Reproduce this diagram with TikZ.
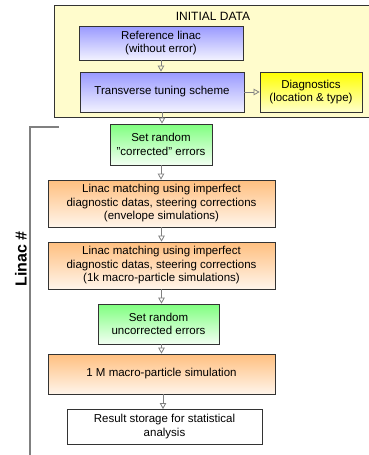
\documentclass[tikz,border=0pt]{standalone}
\usepackage{fontspec}
\setmainfont{Liberation Sans}
\usetikzlibrary{arrows.meta}

\begin{document}
\begin{tikzpicture}[x=1pt, y=-1pt,
    box/.style={draw=black!80, line width=0.7pt, align=center, inner sep=2pt,
                font=\fontsize{11.5}{13.5}\selectfont},
    bluebox/.style={box, top color=blue!40, bottom color=blue!5},
    yellowbox/.style={box, top color=yellow, bottom color=yellow!20},
    greenbox/.style={box, top color=green!50, bottom color=green!5},
    orangebox/.style={box, top color=orange!50, bottom color=orange!8},
    whitebox/.style={box, fill=white},
    link/.style={draw=black!50, line width=0.8pt, -{Triangle[open,length=6pt,width=6.5pt]}}]
    \useasboundingbox (0,0) rectangle (368,455);

    % initial data frame
    \node[draw=black!80, line width=0.7pt, fill=yellow!20, minimum width=316pt, minimum height=112pt, inner sep=0pt] (init) at (212,61) {};
    \node[font=\fontsize{12}{14}\selectfont] (title) at (213,16) {INITIAL DATA};

    \node[bluebox, minimum width=164pt, minimum height=34pt] (ref) at (161,43) {Reference linac\\(without error)};
    \node[bluebox, minimum width=164pt, minimum height=40pt] (tune) at (162,92) {Transverse tuning scheme};
    \node[yellowbox, minimum width=102pt, minimum height=40pt] (diag) at (311,92) {Diagnostics\\(location \& type)};

    % one linac
    \node[greenbox, minimum width=102pt, minimum height=41pt] (set1) at (161,144.5) {Set random\\"corrected" errors};
    \node[orangebox, minimum width=227pt, minimum height=47pt] (match1) at (161.5,203.5) {Linac matching using imperfect\\diagnostic datas, steering corrections\\(envelope simulations)};
    \node[orangebox, minimum width=227pt, minimum height=47pt] (match2) at (161.5,265.5) {Linac matching using imperfect\\diagnostic datas, steering corrections\\(1k macro-particle simulations)};
    \node[greenbox, minimum width=121pt, minimum height=40pt] (set2) at (158.5,324) {Set random\\uncorrected errors};
    \node[orangebox, minimum width=227pt, minimum height=40pt] (sim) at (161.5,374) {1 M macro-particle simulation};
    \node[whitebox, minimum width=195pt, minimum height=35pt] (store) at (164.5,426.5) {Result storage for statistical\\analysis};

    \draw[link] (ref.south) -- (ref.south |- tune.north);
    \draw[link] (tune.east) -- (diag.west);
    \draw[link] (tune.south) -- (tune.south |- set1.north);
    \draw[link] (set1.south) -- (set1.south |- match1.north);
    \draw[link] (match1.south) -- (match1.south |- match2.north);
    \draw[link] (match2.south) -- (match2.south |- set2.north);
    \draw[link] (set2.south -| match2.south) -- (match2.south |- sim.north);
    \draw[link] (163,394) -- (163,409);

    % bracket
    \coordinate (brtop) at (59,127);
    \coordinate (brcorner) at (30,127);
    \coordinate (brend) at (30,456);
    \draw[black!50, line width=1.5pt] (brtop) -- (brcorner) -- (brend);
    \node[rotate=90, font=\fontsize{16}{18}\selectfont\bfseries] (linac) at (21,259) {Linac \#};
\end{tikzpicture}
\end{document}
